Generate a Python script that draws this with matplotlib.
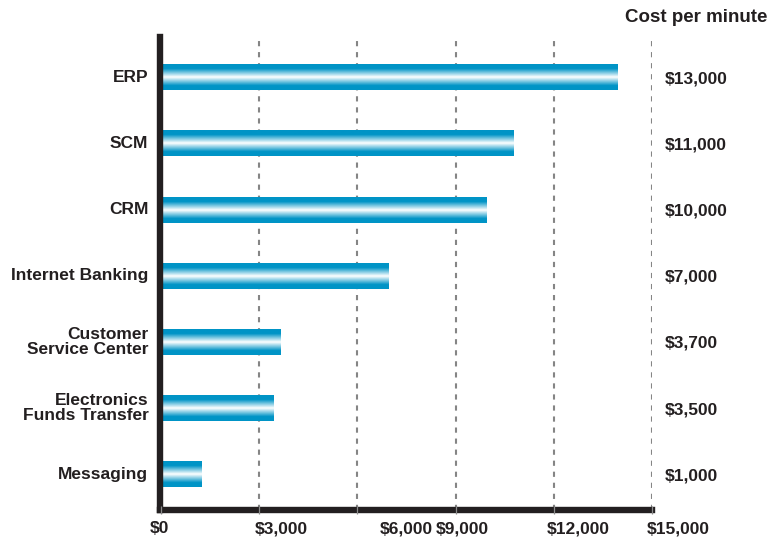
import numpy as np
import matplotlib.pyplot as plt
from matplotlib.colors import LinearSegmentedColormap
from matplotlib.transforms import ScaledTranslation

# dados (de baixo para cima)
categorias = ['Messaging', 'Electronics\nFunds Transfer', 'Customer\nService Center',
              'Internet Banking', 'CRM', 'SCM', 'ERP']
comprimentos = [1250, 3430, 3640, 6950, 9930, 10770, 13950]
custos = ['$1,000', '$3,500', '$3,700', '$7,000', '$10,000', '$11,000', '$13,000']
x_ticks = [0, 3000, 6000, 9000, 12000, 15000]
x_tick_labels = ['$0', '$3,000', '$6,000', '$9,000', '$12,000', '$15,000']
# deslocamento (px) do início de cada rótulo do eixo x em relação ao tick
x_label_shift = [-11, -4, 22, -20, -7, -5]

plt.rcParams['font.family'] = ['Liberation Sans', 'DejaVu Sans']
plt.rcParams['font.weight'] = 'bold'
escuro = '#231f20'
azul = '#0094c6'

fig = plt.figure(figsize=(7.77, 5.41), dpi=100)
ax = fig.add_axes([159.5 / 777, 1 - 510 / 541, (652 - 159.5) / 777, (510 - 37) / 541])

# degradê azul-branco-azul das barras
cmap = LinearSegmentedColormap.from_list('barra', [azul, '#ffffff'])
t = np.linspace(0, 1, 64)
d = np.abs(t - 0.5) * 2
w = np.clip((0.66 - d) / 0.66, 0, 1) ** 1.0
grad = w[:, None]

altura = 0.38
for i, v in enumerate(comprimentos):
    ax.imshow(grad, extent=[0, v, i - altura / 2, i + altura / 2], aspect='auto',
              cmap=cmap, vmin=0, vmax=1, origin='lower', interpolation='bilinear', zorder=2)

# linhas de grade tracejadas
for xt in x_ticks[1:]:
    ax.axvline(xt, color='#858585', lw=1.5, linestyle=(0, (2.5, 2.8)), zorder=1)

ax.set_xlim(-45, 15000)
ax.set_ylim(-0.545, 6.62)

for s in ['top', 'right']:
    ax.spines[s].set_visible(False)
for s in ['left', 'bottom']:
    ax.spines[s].set_linewidth(4.6)
    ax.spines[s].set_color(escuro)
    ax.spines[s].set_capstyle('projecting')

ax.set_xticks(x_ticks)
ax.set_xticklabels([])
ax.tick_params(axis='x', direction='inout', length=6, width=0.9, color='#8a8a8a')
ax.xaxis.set_zorder(3)

ax.set_yticks(range(len(categorias)))
ax.set_yticklabels(categorias, fontsize=12.5, fontweight='bold', color=escuro)
ax.tick_params(axis='y', length=0, pad=8)
for lbl in ax.get_yticklabels():
    lbl.set_linespacing(0.95)
    lbl.set_verticalalignment('center')

# rótulos do eixo x
for xt, lab, dx in zip(x_ticks, x_tick_labels, x_label_shift):
    tr = ax.get_xaxis_transform() + ScaledTranslation(dx / 100, -18.5 / 100, fig.dpi_scale_trans)
    ax.text(xt, 0, lab, transform=tr, ha='left', va='center', fontsize=12.5,
            fontweight='bold', color=escuro)

# custo por minuto à direita
for i, c in enumerate(custos):
    tr = ax.get_yaxis_transform() + ScaledTranslation(13 / 100, -1.5 / 100, fig.dpi_scale_trans)
    ax.text(1, i, c, transform=tr, ha='left', va='center', fontsize=12.5,
            fontweight='bold', color=escuro, clip_on=False)

fig.text(767 / 777, 1 - 18 / 541, 'Cost per minute', ha='right', va='center',
         fontsize=13.5, fontweight='bold', color=escuro)

fig.savefig('out.png', dpi=100)
